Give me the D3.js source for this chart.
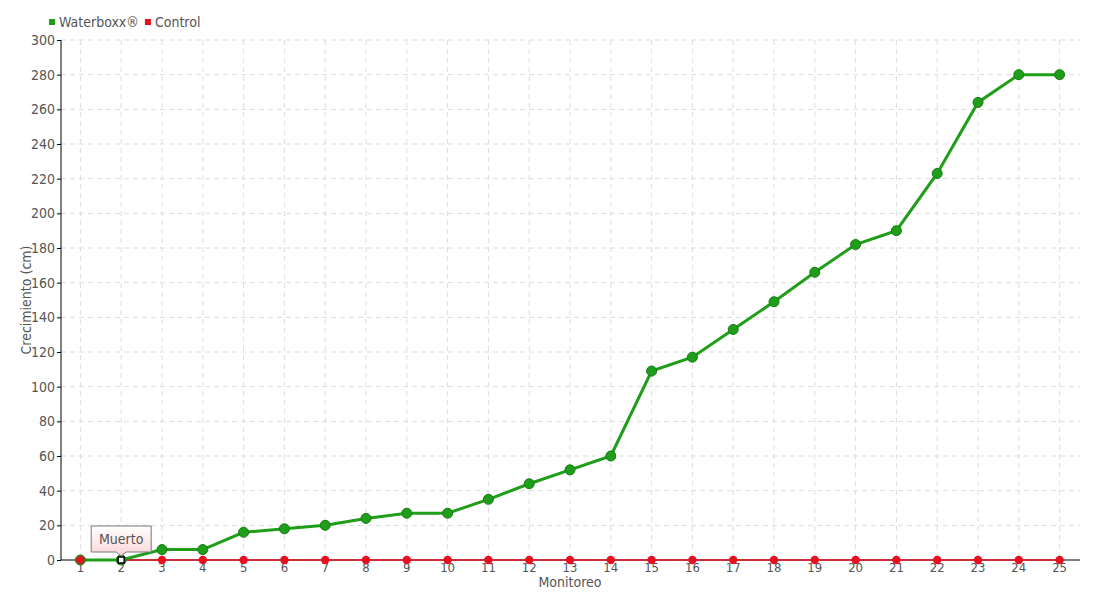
<!DOCTYPE html>
<html>
<head>
<meta charset="utf-8">
<script src="https://cdn.jsdelivr.net/npm/d3@7"></script>
<style>
  body { margin: 0; background: #fff; }
  #chart { position: relative; width: 1100px; height: 600px; }
  text { font-family: "DejaVu Sans", sans-serif; font-stretch: condensed; fill: #555; }
  .grid line { stroke: #ddd; stroke-dasharray: 5,4; }
</style>
</head>
<body>
<div id="chart"></div>
<script>
const monitoreos = d3.range(1, 26).map(String)
const waterboxx = [0, 0, 6, 6, 16, 18, 20, 24, 27, 27, 35, 44, 52, 60, 109, 117, 133, 149, 166, 182, 190, 223, 264, 280, 280]
const control = monitoreos.map(() => 0)
const yTicks = d3.range(0, 301, 20)
const seriesNames = ["Waterboxx®", "Control"]
const seriesColors = ["#1f9e1a", "#e8101e"]

const svg = d3.select("#chart").append("svg")
    .attr("width", 1100)
    .attr("height", 600)

const x = d3.scaleBand().domain(monitoreos).range([60, 1080])
const y = d3.scaleLinear().domain([0, 300]).range([560, 40])
const cx = d => x(d) + x.bandwidth() / 2

// grid
const grid = svg.append("g").attr("class", "grid")
grid.selectAll(".h").data(yTicks.slice(1)).join("line")
    .attr("x1", 61).attr("x2", 1080)
    .attr("y1", d => y(d)).attr("y2", d => y(d))
grid.selectAll(".v").data(monitoreos).join("line")
    .attr("x1", d => cx(d)).attr("x2", d => cx(d))
    .attr("y1", 40).attr("y2", 560)

// axes
const yAxis = svg.append("g")
    .attr("transform", "translate(61,0)")
    .call(d3.axisLeft(y).tickValues(yTicks).tickSize(4).tickSizeOuter(0))
yAxis.select(".domain").attr("stroke", "#000").attr("d", "M0,40V560")
yAxis.selectAll(".tick line").attr("stroke", "#000")
yAxis.selectAll("text").attr("font-size", 14).attr("x", -6).style("fill", "#555")

const xAxis = svg.append("g")
    .attr("transform", "translate(0,560)")
    .call(d3.axisBottom(x).tickSize(3).tickSizeOuter(0))
xAxis.select(".domain").attr("stroke", "#000").attr("d", "M61,0H1080")
xAxis.selectAll(".tick line").attr("stroke", "#000")
xAxis.selectAll("text").attr("font-size", 13).attr("dy", "0.45em").style("fill", "#555")

svg.append("text")
    .attr("x", 570).attr("y", 587)
    .attr("text-anchor", "middle")
    .attr("font-size", 14)
    .text("Monitoreo")

svg.append("text")
    .attr("transform", "translate(31,300) rotate(-90)")
    .attr("text-anchor", "middle")
    .attr("font-size", 14)
    .text("Crecimiento (cm)")

// lines
const line = d3.line().x((d, i) => cx(monitoreos[i])).y(d => y(d))

svg.append("path").datum(control)
    .attr("fill", "none").attr("stroke", seriesColors[1]).attr("stroke-width", 1.5)
    .attr("d", line)

svg.append("path").datum(waterboxx)
    .attr("fill", "none").attr("stroke", seriesColors[0]).attr("stroke-width", 3)
    .attr("d", line)

svg.append("g").selectAll("circle").data(waterboxx).join("circle")
    .attr("cx", (d, i) => cx(monitoreos[i])).attr("cy", d => y(d))
    .attr("r", 5)
    .attr("fill", seriesColors[0]).attr("stroke", "#177a14").attr("stroke-width", 1)

svg.append("g").selectAll("circle").data(control).join("circle")
    .attr("cx", (d, i) => cx(monitoreos[i])).attr("cy", d => y(d))
    .attr("r", (d, i) => i === 1 ? 0 : 4.2)
    .attr("fill", seriesColors[1])

// highlighted point + tooltip
const hx = cx(monitoreos[1]), hy = y(waterboxx[1])
svg.append("rect")
    .attr("x", hx - 3).attr("y", hy - 3).attr("width", 6).attr("height", 6)
    .attr("fill", "#fff").attr("stroke", "#000").attr("stroke-width", 1.5)

const grad = svg.append("defs").append("linearGradient")
    .attr("id", "tipgrad").attr("x1", 0).attr("x2", 0).attr("y1", 0).attr("y2", 1)
grad.append("stop").attr("offset", "0%").attr("stop-color", "#fff")
grad.append("stop").attr("offset", "100%").attr("stop-color", "#fbd4d6")

svg.append("path")
    .attr("d", `M${hx - 30},${hy - 34}H${hx + 30}V${hy - 8}H${hx + 5}L${hx},${hy - 4}L${hx - 5},${hy - 8}H${hx - 30}Z`)
    .attr("fill", "url(#tipgrad)").attr("stroke", "#777").attr("stroke-width", 1)
svg.append("text")
    .attr("x", hx).attr("y", hy - 16)
    .attr("text-anchor", "middle").attr("font-size", 14)
    .text("Muerto")

// legend
const legend = svg.append("g").attr("transform", "translate(49,16)")
let lx = 0
seriesNames.forEach((name, i) => {
    const g = legend.append("g").attr("transform", `translate(${lx},0)`)
    g.append("rect")
        .attr("width", 6).attr("height", 6).attr("y", 3)
        .attr("fill", seriesColors[i])
    const t = g.append("text")
        .attr("x", 10).attr("y", 11).attr("font-size", 14)
        .text(name)
    lx += 10 + t.node().getComputedTextLength() + 6
})
</script>
</body>
</html>
